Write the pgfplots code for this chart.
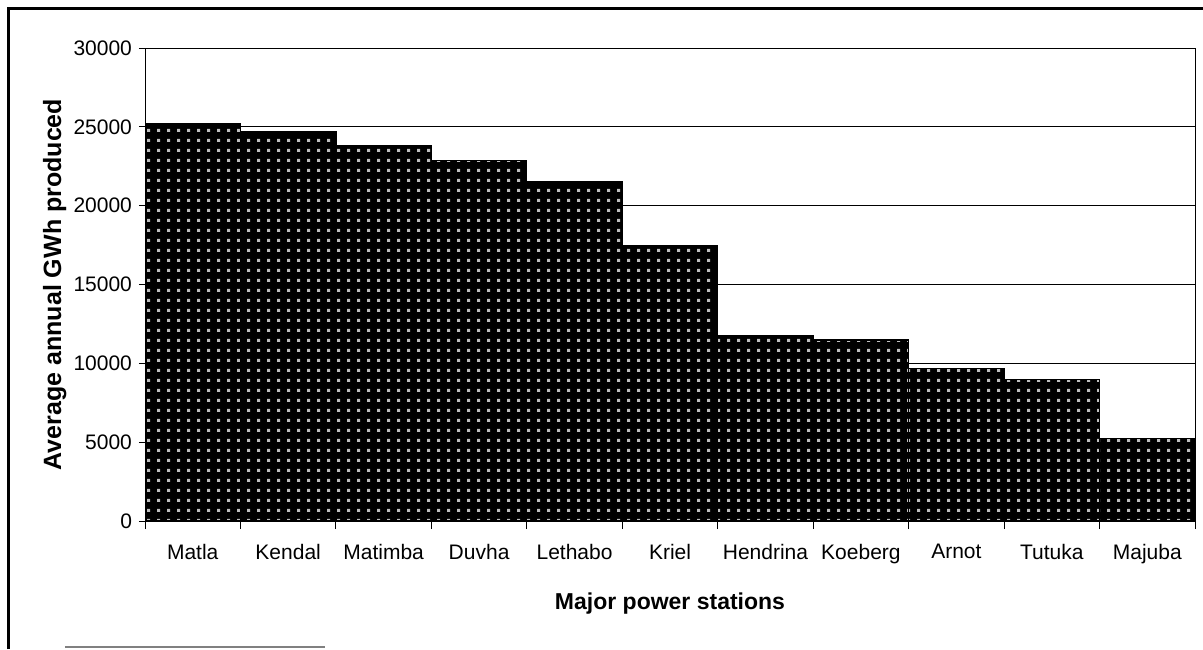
\documentclass[border=0pt]{standalone}
\usepackage{pgfplots}
\pgfplotsset{compat=1.18}
\usepackage{fontspec}
\setmainfont{Liberation Sans}
\usetikzlibrary{patterns}

% light square dots on the dark bars
\pgfdeclarepatternformonly{dotgrid}{\pgfpointorigin}{\pgfpoint{4.8pt}{4.8pt}}{\pgfpoint{4.8pt}{4.8pt}}{%
  \pgfpathrectangle{\pgfpoint{1.6pt}{1.6pt}}{\pgfpoint{1.6pt}{1.6pt}}%
  \pgfusepath{fill}}

\begin{document}
\begin{tikzpicture}
  % page = 1203 x 649 px at 0.5pt per px, origin at the axis corner
  \path[use as bounding box] (-72.5pt,-64pt) rectangle (529pt,260.5pt);
  \begin{axis}[
    at={(0,0)}, anchor=south west,
    scale only axis,
    width=525pt, height=236.5pt,
    xmin=-0.5, xmax=10.5,
    ymin=0, ymax=30000,
    ytick={0,5000,...,30000},
    scaled y ticks=false,
    xtick={0,...,10},
    xticklabels={Matla, Kendal, Matimba, Duvha, Lethabo, Kriel, Hendrina, Koeberg, Arnot, Tutuka, Majuba},
    minor xtick={-0.5,0.5,...,10.5},
    tick pos=left,
    tick align=outside,
    major tick length=3pt,
    minor tick length=4pt,
    major x tick style={draw=none},
    minor x tick style={black, line width=0.5pt},
    ytick style={black, line width=0.5pt},
    ymajorgrids,
    grid style={black, line width=0.5pt},
    axis line style={black, line width=0.5pt},
    /pgf/number format/.cd, 1000 sep={}, assume math mode=true,
    /pgfplots/.cd,
    ticklabel style={font=\fontsize{10.5}{12}\selectfont},
    xticklabel style={yshift=-5pt},
    xlabel={Major power stations},
    ylabel={Average annual GWh produced},
    xlabel style={font=\bfseries\fontsize{11.5}{13}\selectfont, at={(axis description cs:0.5,-0.175)}, anchor=center},
    ylabel style={font=\bfseries\fontsize{12.5}{14}\selectfont, at={(axis description cs:-0.086,0.5)}, anchor=center},
  ]
  \addplot[ybar, bar width=1, fill=black, draw=black, line width=0.6pt,
           postaction={pattern=dotgrid, pattern color=white!75!black}]
    coordinates {
      (0, 25200)
      (1, 24700)
      (2, 23800)
      (3, 22850)
      (4, 21550)
      (5, 17450)
      (6, 11730)
      (7, 11480)
      (8, 9680)
      (9, 9000)
      (10, 5240)
    };
  \end{axis}
  % scanned page frame
  \draw[line width=1.5pt] (-68pt,-64pt) -- (-68pt,256pt) -- (529pt,256pt);
  \draw[gray, line width=0.6pt] (-40pt,-63pt) -- (90pt,-63pt);
\end{tikzpicture}
\end{document}
